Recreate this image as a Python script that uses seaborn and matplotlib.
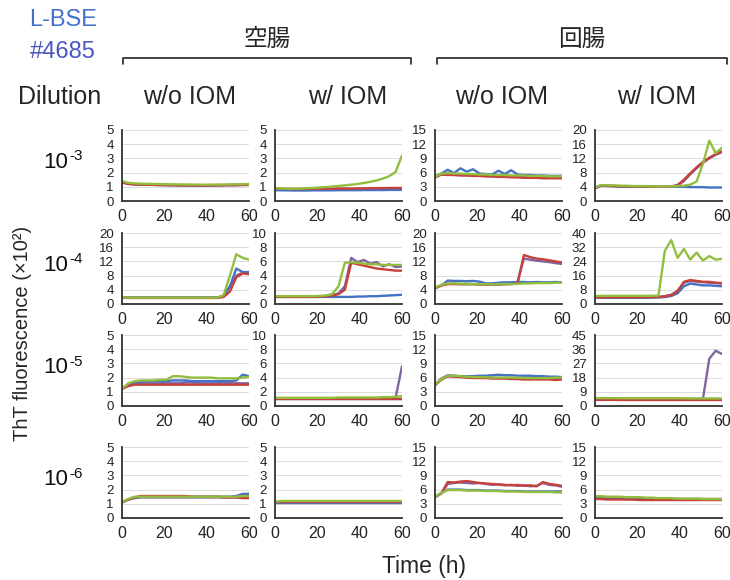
import matplotlib
matplotlib.use('Agg')
import matplotlib.pyplot as plt
from matplotlib.lines import Line2D
import pandas as pd
import seaborn as sns

# sampling times (h) shared by every trace
time_h = [0, 3, 6, 9, 12, 15, 18, 21, 24, 27, 30, 33, 36, 39, 42, 45, 48, 51, 54, 57, 60]

wells = ['w1', 'w2', 'w3', 'w4']
well_colors = ['#4472C4', '#C8403A', '#92BE3E', '#8064A2']
draw_order = ['w4', 'w1', 'w2', 'w3']

dilutions = ['-3', '-4', '-5', '-6']
conditions = ['w/o IOM', 'w/ IOM', 'w/o IOM', 'w/ IOM']
tissues = ['空腸', '回腸']

# y-axis maximum of each panel (rows = dilution, cols = condition)
y_max = [[5, 5, 15, 20],
         [20, 10, 20, 40],
         [5, 10, 15, 45],
         [5, 5, 15, 15]]

# ---- 10^-3 ----
jej_wo_3 = [
    [1.35, 1.22, 1.18, 1.16, 1.15, 1.14, 1.13, 1.12, 1.12, 1.11, 1.11, 1.10, 1.10, 1.10, 1.10, 1.11, 1.12, 1.12, 1.13, 1.14, 1.15],
    [1.30, 1.20, 1.17, 1.15, 1.14, 1.13, 1.12, 1.12, 1.11, 1.10, 1.10, 1.10, 1.09, 1.09, 1.10, 1.10, 1.11, 1.12, 1.12, 1.13, 1.13],
    [1.40, 1.28, 1.24, 1.22, 1.21, 1.20, 1.19, 1.18, 1.17, 1.17, 1.16, 1.16, 1.15, 1.15, 1.15, 1.16, 1.16, 1.17, 1.18, 1.18, 1.20],
    [1.32, 1.21, 1.18, 1.16, 1.15, 1.14, 1.13, 1.12, 1.12, 1.11, 1.11, 1.10, 1.10, 1.10, 1.10, 1.11, 1.11, 1.12, 1.12, 1.13, 1.14],
]
jej_w_3 = [
    [0.76, 0.75, 0.75, 0.74, 0.74, 0.74, 0.75, 0.75, 0.75, 0.75, 0.76, 0.76, 0.76, 0.76, 0.77, 0.77, 0.77, 0.77, 0.78, 0.78, 0.78],
    [0.88, 0.86, 0.85, 0.85, 0.85, 0.86, 0.86, 0.86, 0.87, 0.87, 0.88, 0.88, 0.88, 0.89, 0.89, 0.90, 0.90, 0.91, 0.91, 0.92, 0.92],
    [0.90, 0.88, 0.87, 0.87, 0.88, 0.90, 0.92, 0.95, 0.98, 1.02, 1.06, 1.10, 1.15, 1.20, 1.27, 1.35, 1.45, 1.58, 1.75, 2.05, 3.20],
    [0.80, 0.79, 0.79, 0.79, 0.80, 0.80, 0.80, 0.81, 0.81, 0.81, 0.82, 0.82, 0.82, 0.83, 0.83, 0.83, 0.84, 0.84, 0.84, 0.85, 0.85],
]
ile_wo_3 = [
    [5.2, 5.8, 6.6, 5.9, 6.9, 6.2, 6.7, 5.8, 5.7, 5.6, 6.4, 5.7, 6.5, 5.6, 5.5, 5.5, 5.4, 5.4, 5.3, 5.3, 5.3],
    [5.0, 5.6, 5.5, 5.5, 5.4, 5.4, 5.3, 5.3, 5.2, 5.2, 5.1, 5.1, 5.0, 5.0, 4.9, 4.9, 4.9, 4.8, 4.8, 4.8, 4.8],
    [5.1, 5.8, 5.9, 5.8, 5.8, 5.7, 5.7, 5.6, 5.6, 5.5, 5.5, 5.5, 5.4, 5.4, 5.4, 5.3, 5.3, 5.3, 5.2, 5.2, 5.2],
    [5.0, 5.6, 5.6, 5.5, 5.5, 5.4, 5.4, 5.3, 5.3, 5.2, 5.2, 5.2, 5.1, 5.1, 5.0, 5.0, 5.0, 4.9, 4.9, 4.9, 4.9],
]
ile_w_3 = [
    [3.6, 4.3, 4.2, 4.2, 4.1, 4.1, 4.1, 4.0, 4.0, 4.0, 4.0, 4.0, 4.0, 4.0, 4.0, 3.9, 3.9, 3.9, 3.8, 3.8, 3.8],
    [3.7, 4.4, 4.3, 4.2, 4.2, 4.1, 4.1, 4.1, 4.0, 4.0, 4.0, 4.0, 4.1, 4.5, 6.0, 7.8, 9.5, 11.0, 12.2, 13.2, 14.0],
    [3.8, 4.5, 4.4, 4.4, 4.3, 4.3, 4.2, 4.2, 4.2, 4.1, 4.1, 4.1, 4.1, 4.2, 4.3, 4.6, 5.5, 10.5, 17.0, 13.5, 15.0],
    [3.7, 4.4, 4.3, 4.2, 4.1, 4.1, 4.1, 4.0, 4.0, 4.0, 4.0, 4.0, 4.0, 4.4, 5.6, 7.5, 9.2, 10.8, 12.0, 13.0, 13.8],
]

# ---- 10^-4 ----
jej_wo_4 = [
    [1.9, 1.8, 1.8, 1.8, 1.8, 1.8, 1.8, 1.8, 1.8, 1.8, 1.8, 1.8, 1.8, 1.8, 1.8, 1.8, 2.2, 5.0, 10.0, 9.0, 9.0],
    [1.8, 1.7, 1.7, 1.7, 1.7, 1.7, 1.7, 1.7, 1.7, 1.7, 1.7, 1.7, 1.7, 1.7, 1.7, 1.7, 2.0, 3.5, 7.5, 8.6, 8.4],
    [1.9, 1.8, 1.8, 1.8, 1.8, 1.8, 1.8, 1.8, 1.8, 1.8, 1.8, 1.8, 1.8, 1.8, 1.8, 1.8, 2.5, 8.0, 14.0, 13.0, 12.5],
    [1.8, 1.8, 1.8, 1.8, 1.8, 1.8, 1.8, 1.8, 1.8, 1.8, 1.8, 1.8, 1.8, 1.8, 1.8, 1.8, 2.3, 5.0, 8.0, 8.8, 9.0],
]
jej_w_4 = [
    [1.0, 1.0, 1.0, 1.0, 1.0, 1.0, 1.0, 1.0, 1.0, 1.0, 1.0, 1.0, 1.0, 1.05, 1.05, 1.1, 1.1, 1.15, 1.2, 1.25, 1.3],
    [1.0, 1.0, 1.0, 1.0, 1.0, 1.0, 1.0, 1.05, 1.1, 1.2, 1.4, 2.0, 5.8, 5.6, 5.4, 5.2, 5.0, 4.9, 4.8, 4.7, 4.7],
    [1.1, 1.1, 1.1, 1.1, 1.1, 1.1, 1.1, 1.15, 1.2, 1.4, 2.5, 5.8, 5.9, 5.8, 5.7, 5.6, 5.6, 5.5, 5.5, 5.5, 5.5],
    [1.0, 1.0, 1.0, 1.0, 1.0, 1.0, 1.0, 1.05, 1.1, 1.2, 1.5, 2.5, 6.5, 5.9, 6.2, 5.7, 5.9, 5.3, 5.6, 5.2, 5.3],
]
ile_wo_4 = [
    [4.6, 5.2, 6.6, 6.5, 6.5, 6.4, 6.5, 6.3, 5.8, 5.8, 6.0, 6.1, 6.1, 6.2, 6.2, 6.1, 6.2, 6.1, 6.1, 6.2, 6.1],
    [4.4, 5.2, 5.6, 5.6, 5.6, 5.6, 5.6, 5.5, 5.5, 5.5, 5.5, 5.6, 5.6, 5.8, 13.8, 13.2, 12.8, 12.6, 12.3, 12.0, 11.7],
    [4.6, 5.4, 5.8, 5.8, 5.7, 5.7, 5.6, 5.6, 5.6, 5.5, 5.6, 5.6, 5.6, 5.7, 5.8, 5.8, 5.9, 5.9, 5.9, 6.0, 6.0],
    [4.5, 5.3, 5.7, 5.7, 5.6, 5.6, 5.6, 5.5, 5.5, 5.5, 5.5, 5.6, 5.7, 6.2, 12.8, 12.5, 12.2, 12.0, 11.8, 11.5, 11.3],
]
ile_w_4 = [
    [3.5, 3.5, 3.5, 3.5, 3.5, 3.5, 3.5, 3.5, 3.5, 3.6, 3.7, 3.9, 4.5, 6.0, 10.0, 11.5, 11.0, 10.5, 10.5, 10.2, 10.0],
    [3.8, 3.8, 3.8, 3.8, 3.8, 3.8, 3.8, 3.8, 3.8, 3.9, 4.0, 4.3, 5.0, 7.0, 12.5, 13.5, 13.0, 12.5, 12.5, 12.0, 11.8],
    [4.5, 4.6, 4.6, 4.6, 4.6, 4.6, 4.6, 4.6, 4.6, 4.6, 4.8, 30.0, 36.0, 26.0, 31.0, 25.0, 29.0, 24.5, 27.0, 25.0, 25.5],
    [3.8, 3.8, 3.8, 3.8, 3.8, 3.8, 3.8, 3.8, 3.8, 3.9, 4.0, 4.4, 5.2, 7.5, 12.0, 13.0, 12.6, 12.3, 12.0, 11.8, 11.5],
]

# ---- 10^-5 ----
jej_wo_5 = [
    [1.2, 1.5, 1.7, 1.7, 1.75, 1.75, 1.75, 1.75, 1.8, 1.8, 1.8, 1.75, 1.75, 1.75, 1.75, 1.75, 1.75, 1.75, 1.8, 2.2, 2.1],
    [1.2, 1.4, 1.5, 1.5, 1.5, 1.5, 1.5, 1.5, 1.5, 1.5, 1.5, 1.5, 1.5, 1.5, 1.5, 1.5, 1.5, 1.5, 1.5, 1.5, 1.5],
    [1.2, 1.6, 1.75, 1.8, 1.8, 1.8, 1.85, 1.85, 2.1, 2.1, 2.05, 2.0, 2.0, 2.0, 2.0, 1.95, 1.95, 1.95, 1.95, 2.0, 2.05],
    [1.2, 1.5, 1.6, 1.6, 1.6, 1.6, 1.6, 1.6, 1.6, 1.6, 1.65, 1.65, 1.6, 1.6, 1.6, 1.6, 1.65, 1.6, 1.6, 1.6, 1.6],
]
jej_w_5 = [
    [1.0, 1.0, 1.0, 1.0, 1.0, 1.0, 1.0, 1.0, 1.0, 1.0, 1.0, 1.0, 1.0, 1.0, 1.0, 1.0, 1.0, 1.0, 1.0, 1.0, 1.0],
    [1.05, 1.05, 1.05, 1.05, 1.05, 1.05, 1.05, 1.05, 1.05, 1.05, 1.05, 1.05, 1.05, 1.05, 1.05, 1.05, 1.05, 1.05, 1.05, 1.05, 1.05],
    [1.15, 1.15, 1.15, 1.15, 1.15, 1.15, 1.15, 1.15, 1.15, 1.15, 1.2, 1.2, 1.2, 1.2, 1.2, 1.2, 1.2, 1.25, 1.25, 1.3, 1.4],
    [1.1, 1.1, 1.1, 1.1, 1.1, 1.1, 1.1, 1.1, 1.1, 1.1, 1.1, 1.1, 1.1, 1.1, 1.1, 1.1, 1.1, 1.1, 1.15, 1.2, 5.6],
]
ile_wo_5 = [
    [4.5, 5.8, 6.5, 6.4, 6.3, 6.3, 6.3, 6.4, 6.4, 6.5, 6.6, 6.5, 6.5, 6.4, 6.4, 6.4, 6.3, 6.3, 6.2, 6.2, 6.1],
    [4.4, 5.6, 6.3, 6.2, 6.1, 6.0, 5.9, 5.9, 5.9, 5.8, 5.8, 5.8, 5.7, 5.7, 5.6, 5.6, 5.6, 5.6, 5.6, 5.5, 5.6],
    [4.5, 5.7, 6.4, 6.4, 6.3, 6.2, 6.1, 6.1, 6.1, 6.0, 6.0, 6.0, 6.0, 6.0, 5.9, 5.9, 5.9, 5.9, 5.9, 6.0, 6.0],
    [4.4, 5.6, 6.3, 6.3, 6.2, 6.1, 6.1, 6.0, 6.0, 6.0, 5.9, 5.9, 5.9, 5.9, 5.8, 5.8, 5.8, 5.8, 5.8, 5.8, 5.8],
]
ile_w_5 = [
    [4.3, 4.3, 4.3, 4.3, 4.2, 4.2, 4.2, 4.2, 4.2, 4.2, 4.2, 4.2, 4.2, 4.2, 4.2, 4.2, 4.2, 4.2, 4.2, 4.2, 4.2],
    [3.9, 3.9, 3.9, 3.9, 3.8, 3.8, 3.8, 3.8, 3.8, 3.8, 3.8, 3.8, 3.8, 3.8, 3.8, 3.8, 3.8, 3.8, 3.8, 3.8, 3.8],
    [5.0, 5.0, 5.0, 5.0, 4.9, 4.9, 4.9, 4.9, 4.9, 4.9, 4.9, 4.9, 4.9, 4.9, 4.9, 4.8, 4.8, 4.8, 4.8, 4.8, 4.8],
    [4.5, 4.5, 4.5, 4.5, 4.5, 4.5, 4.5, 4.5, 4.5, 4.5, 4.5, 4.5, 4.5, 4.5, 4.5, 4.5, 4.5, 4.6, 30.0, 35.0, 33.0],
]

# ---- 10^-6 ----
jej_wo_6 = [
    [1.1, 1.3, 1.45, 1.5, 1.5, 1.5, 1.5, 1.5, 1.5, 1.5, 1.5, 1.5, 1.5, 1.5, 1.5, 1.5, 1.5, 1.5, 1.55, 1.7, 1.7],
    [1.1, 1.3, 1.45, 1.55, 1.55, 1.55, 1.55, 1.55, 1.55, 1.55, 1.55, 1.5, 1.5, 1.5, 1.5, 1.5, 1.45, 1.45, 1.45, 1.4, 1.4],
    [1.1, 1.35, 1.5, 1.5, 1.5, 1.5, 1.5, 1.5, 1.5, 1.5, 1.5, 1.5, 1.5, 1.5, 1.5, 1.5, 1.5, 1.5, 1.5, 1.55, 1.55],
    [1.1, 1.3, 1.4, 1.45, 1.45, 1.45, 1.45, 1.45, 1.45, 1.45, 1.45, 1.45, 1.45, 1.45, 1.45, 1.45, 1.45, 1.45, 1.45, 1.45, 1.45],
]
jej_w_6 = [
    [1.05, 1.05, 1.05, 1.05, 1.05, 1.05, 1.05, 1.05, 1.05, 1.05, 1.05, 1.05, 1.05, 1.05, 1.05, 1.05, 1.05, 1.05, 1.05, 1.05, 1.05],
    [1.1, 1.1, 1.1, 1.1, 1.1, 1.1, 1.1, 1.1, 1.1, 1.1, 1.1, 1.1, 1.1, 1.1, 1.1, 1.1, 1.1, 1.1, 1.1, 1.1, 1.1],
    [1.15, 1.2, 1.2, 1.2, 1.2, 1.2, 1.2, 1.2, 1.2, 1.2, 1.2, 1.2, 1.2, 1.2, 1.2, 1.2, 1.2, 1.2, 1.2, 1.2, 1.2],
    [1.1, 1.12, 1.12, 1.12, 1.12, 1.12, 1.12, 1.12, 1.12, 1.12, 1.12, 1.12, 1.12, 1.12, 1.12, 1.12, 1.12, 1.12, 1.12, 1.12, 1.12],
]
ile_wo_6 = [
    [4.5, 5.3, 6.0, 6.0, 6.0, 5.9, 5.9, 5.9, 5.8, 5.8, 5.8, 5.7, 5.7, 5.7, 5.6, 5.6, 5.6, 5.6, 5.6, 5.6, 5.6],
    [4.4, 5.2, 7.6, 7.5, 7.7, 7.8, 7.6, 7.4, 7.3, 7.2, 7.1, 7.0, 6.9, 7.0, 6.8, 6.9, 6.7, 7.6, 7.2, 7.0, 6.8],
    [4.5, 5.3, 5.9, 5.9, 5.9, 5.8, 5.8, 5.8, 5.7, 5.7, 5.7, 5.6, 5.6, 5.6, 5.5, 5.5, 5.5, 5.5, 5.5, 5.4, 5.4],
    [4.4, 5.2, 7.2, 7.4, 7.5, 7.4, 7.3, 7.4, 7.2, 7.0, 7.1, 6.9, 7.0, 6.8, 6.9, 6.7, 6.8, 7.4, 7.0, 6.9, 6.6],
]
ile_w_6 = [
    [4.2, 4.2, 4.1, 4.1, 4.1, 4.0, 4.0, 4.0, 4.0, 4.0, 4.0, 4.0, 4.0, 4.0, 4.0, 4.0, 4.0, 4.0, 4.0, 4.0, 4.0],
    [4.0, 4.0, 3.9, 3.9, 3.9, 3.9, 3.9, 3.8, 3.8, 3.8, 3.8, 3.8, 3.8, 3.8, 3.8, 3.8, 3.8, 3.8, 3.8, 3.8, 3.8],
    [4.6, 4.6, 4.5, 4.5, 4.5, 4.4, 4.4, 4.4, 4.3, 4.3, 4.2, 4.2, 4.2, 4.1, 4.1, 4.1, 4.1, 4.0, 4.0, 4.0, 4.0],
    [4.2, 4.2, 4.1, 4.1, 4.1, 4.1, 4.1, 4.0, 4.0, 4.0, 4.0, 4.0, 4.0, 4.0, 4.0, 4.0, 4.0, 4.0, 4.0, 4.0, 4.0],
]

panels = [[jej_wo_3, jej_w_3, ile_wo_3, ile_w_3],
          [jej_wo_4, jej_w_4, ile_wo_4, ile_w_4],
          [jej_wo_5, jej_w_5, ile_wo_5, ile_w_5],
          [jej_wo_6, jej_w_6, ile_wo_6, ile_w_6]]


def to_long(traces):
    rows = []
    for well, vals in zip(wells, traces):
        for t, v in zip(time_h, vals):
            rows.append({'time': t, 'value': v, 'well': well})
    return pd.DataFrame(rows)


sns.set_style('white')
plt.rcParams['font.family'] = ['Liberation Sans', 'Noto Sans CJK JP', 'DejaVu Sans']

W, H = 730, 580
fig = plt.figure(figsize=(W / 100, H / 100), dpi=100)

# panel layout in pixels
col_left = [122, 275, 435, 595]
row_top = [130, 233, 335, 447]
pw, ph = 127, 71
axis_col = '#333333'
pal = dict(zip(wells, well_colors))

for r in range(4):
    for c in range(4):
        ax = fig.add_axes([col_left[c] / W, 1 - (row_top[r] + ph) / H, pw / W, ph / H])
        df = to_long(panels[r][c])
        sns.lineplot(data=df, x='time', y='value', hue='well', hue_order=draw_order,
                     palette=pal, legend=False, ax=ax, linewidth=1.7)
        ym = y_max[r][c]
        ax.set_xlim(0, 60)
        ax.set_ylim(0, ym)
        ax.set_xticks([0, 20, 40, 60])
        ax.set_yticks([ym / 5 * i for i in range(6)])
        ax.set_yticklabels([str(int(ym / 5 * i)) for i in range(6)])
        ax.yaxis.grid(True, color='#dcdcdc', linewidth=0.7)
        ax.set_axisbelow(True)
        ax.set_xlabel('')
        ax.set_ylabel('')
        for s in ['top', 'right']:
            ax.spines[s].set_visible(False)
        for s in ['left', 'bottom']:
            ax.spines[s].set_color(axis_col)
            ax.spines[s].set_linewidth(1.3)
        ax.tick_params(axis='y', direction='out', length=4, width=1, color=axis_col,
                       labelsize=9.5, pad=2, labelcolor='#222222')
        ax.tick_params(axis='x', direction='inout', length=6, width=1, color=axis_col,
                       labelsize=11.5, pad=3, labelcolor='#222222')

    # dilution label for the row: "10" with a raised exponent
    yc = 1 - (row_top[r] + ph / 2 - 3) / H
    fig.text(68 / W, yc, '10', ha='right', va='center', fontsize=16, color='#111111')
    fig.text(69 / W, yc + 6 / H, dilutions[r], ha='left', va='center', fontsize=11,
             color='#111111')

# column headers
fig.text(60 / W, 1 - 97 / H, 'Dilution', ha='center', va='center', fontsize=18)
for cx, lab in zip([190, 348, 502, 657], conditions):
    fig.text(cx / W, 1 - 97 / H, lab, ha='center', va='center', fontsize=18)

# tissue headers with brackets
for (x0, x1), lab in zip([(123, 411), (437, 727)], tissues):
    fig.text((x0 + x1) / 2 / W, 1 - 40 / H, lab, ha='center', va='center', fontsize=17)
    fig.add_artist(Line2D([x0 / W, x0 / W, x1 / W, x1 / W],
                          [1 - 64 / H, 1 - 58 / H, 1 - 58 / H, 1 - 64 / H],
                          transform=fig.transFigure, color='#222222', linewidth=1.2))

# sample name
fig.text(63 / W, 1 - 20 / H, 'L-BSE', ha='center', va='center', fontsize=17, color='#4470cc')
fig.text(63 / W, 1 - 52 / H, '#4685', ha='center', va='center', fontsize=17, color='#4a55c0')

# axis titles
fig.text(23 / W, 1 - 333 / H, 'ThT fluorescence (×10²)', rotation=90, ha='center', va='center',
         fontsize=14.5)
fig.text(424 / W, 1 - 567 / H, 'Time (h)', ha='center', va='center', fontsize=16.5)

fig.savefig('out.png', dpi=100)
